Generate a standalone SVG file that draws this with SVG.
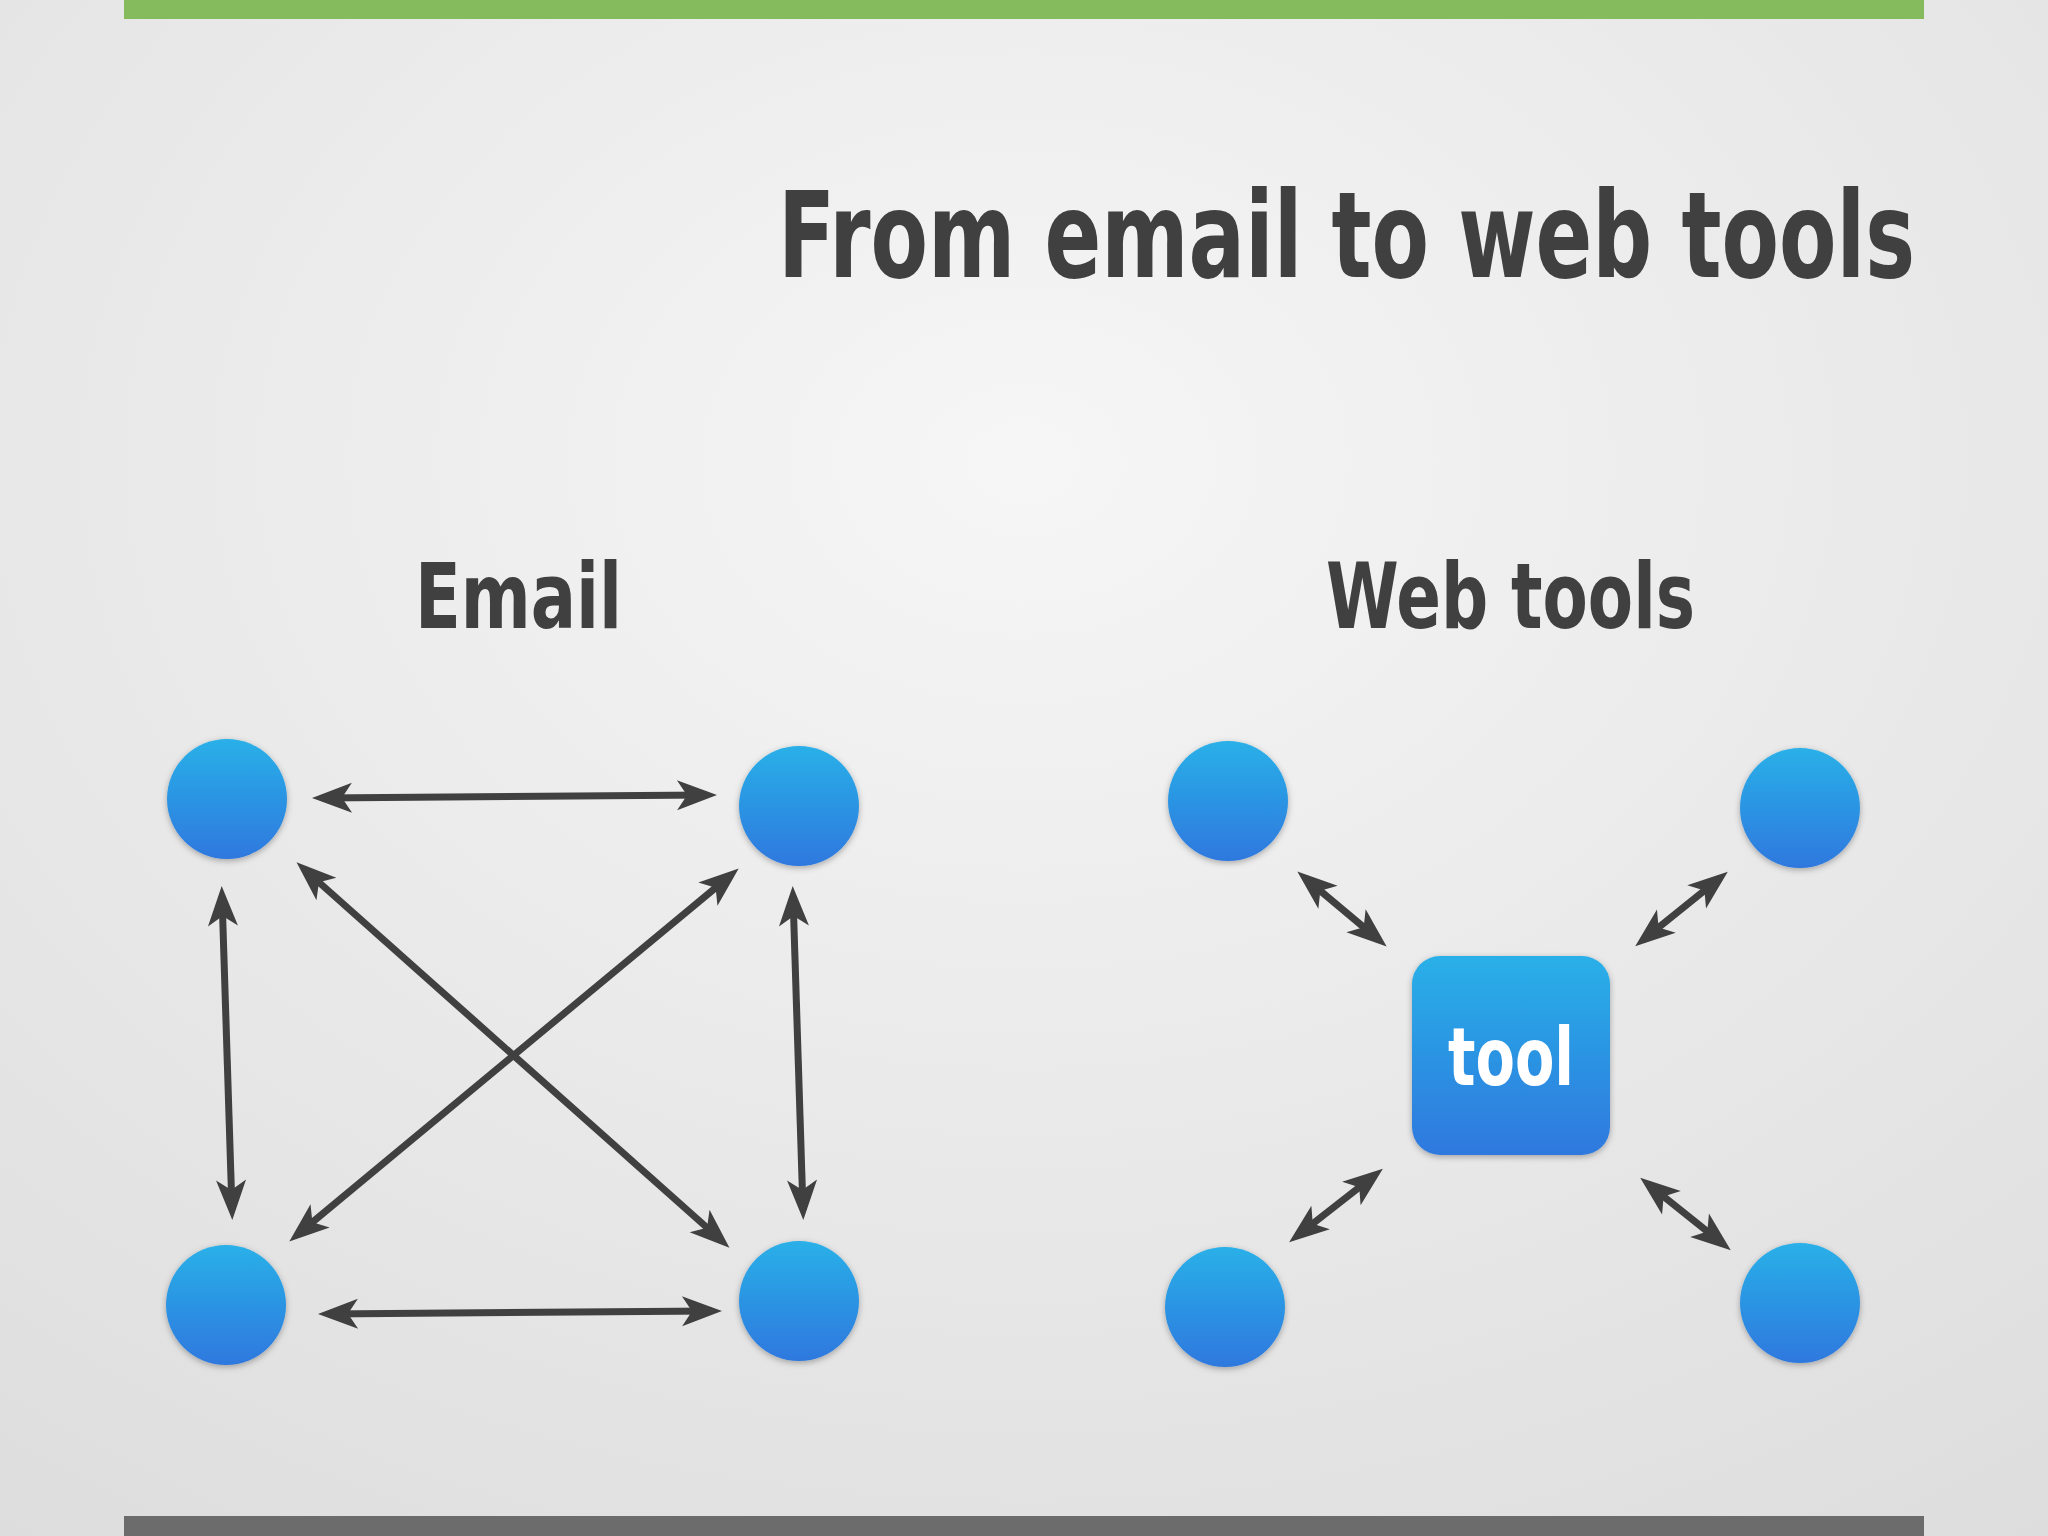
<svg xmlns="http://www.w3.org/2000/svg" width="2048" height="1536" viewBox="0 0 2048 1536">
<style>
.t{font-family:"DejaVu Sans Condensed","DejaVu Sans",sans-serif;font-weight:bold;fill:#404040}
.c{fill:url(#cg);filter:url(#sh)}
.a{stroke:#404040;stroke-width:7;fill:none;marker-start:url(#ah);marker-end:url(#ah)}
</style>
<defs>
<radialGradient id="bg" cx="0.5" cy="0.3" r="0.9"><stop offset="0" stop-color="#f6f6f6"/><stop offset="1" stop-color="#dcdcdc"/></radialGradient>
<linearGradient id="cg" x1="0" y1="0" x2="0" y2="1"><stop offset="0" stop-color="#2ab0e8"/><stop offset="1" stop-color="#2e78de"/></linearGradient>
<filter id="sh" x="-20%" y="-20%" width="140%" height="140%"><feDropShadow dx="0" dy="2" stdDeviation="3" flood-opacity="0.3"/></filter>
<marker id="ah" markerUnits="userSpaceOnUse" markerWidth="44" markerHeight="34" refX="30" refY="15" orient="auto-start-reverse" overflow="visible"><path d="M0,0 L40,15 L0,30 L10,15 Z" fill="#404040"/></marker>
</defs>
<rect width="2048" height="1536" fill="url(#bg)"/>
<rect x="124" y="0" width="1800" height="19" fill="#85bb5c"/>
<rect x="124" y="1516" width="1800" height="20" fill="#6c6c6c"/>
<text class="t" x="1915" y="277" font-size="120" text-anchor="end" textLength="1137" lengthAdjust="spacingAndGlyphs">From email to web tools</text>
<text class="t" x="415" y="628" font-size="90" textLength="207" lengthAdjust="spacingAndGlyphs">Email</text>
<text class="t" x="1326" y="628" font-size="90" textLength="369" lengthAdjust="spacingAndGlyphs">Web tools</text>
<g id="connectors">
<line class="a" x1="322" y1="798" x2="707" y2="795"/>
<line class="a" x1="328" y1="1314" x2="712" y2="1311"/>
<line class="a" x1="222" y1="896" x2="232" y2="1210"/>
<line class="a" x1="793" y1="896" x2="803" y2="1210"/>
<line class="a" x1="304" y1="869" x2="722" y2="1241"/>
<line class="a" x1="731" y1="875" x2="297" y2="1235"/>
<line class="a" x1="1305" y1="878" x2="1379" y2="940"/>
<line class="a" x1="1720" y1="878" x2="1643" y2="940"/>
<line class="a" x1="1297" y1="1236" x2="1375" y2="1175"/>
<line class="a" x1="1648" y1="1184" x2="1723" y2="1244"/>
</g>
<g id="e1"><circle class="c" cx="227" cy="799" r="60"/></g>
<g id="e2"><circle class="c" cx="799" cy="806" r="60"/></g>
<g id="e3"><circle class="c" cx="226" cy="1305" r="60"/></g>
<g id="e4"><circle class="c" cx="799" cy="1301" r="60"/></g>
<g id="w1"><circle class="c" cx="1228" cy="801" r="60"/></g>
<g id="w2"><circle class="c" cx="1800" cy="808" r="60"/></g>
<g id="w3"><circle class="c" cx="1225" cy="1307" r="60"/></g>
<g id="w4"><circle class="c" cx="1800" cy="1303" r="60"/></g>
<g id="tool"><rect x="1412" y="956" width="198" height="199" rx="28" class="c"/>
<text x="1511" y="1085" font-size="80" text-anchor="middle" font-family="'DejaVu Sans Condensed','DejaVu Sans',sans-serif" font-weight="bold" fill="#fff" textLength="126" lengthAdjust="spacingAndGlyphs">tool</text></g>
</svg>
